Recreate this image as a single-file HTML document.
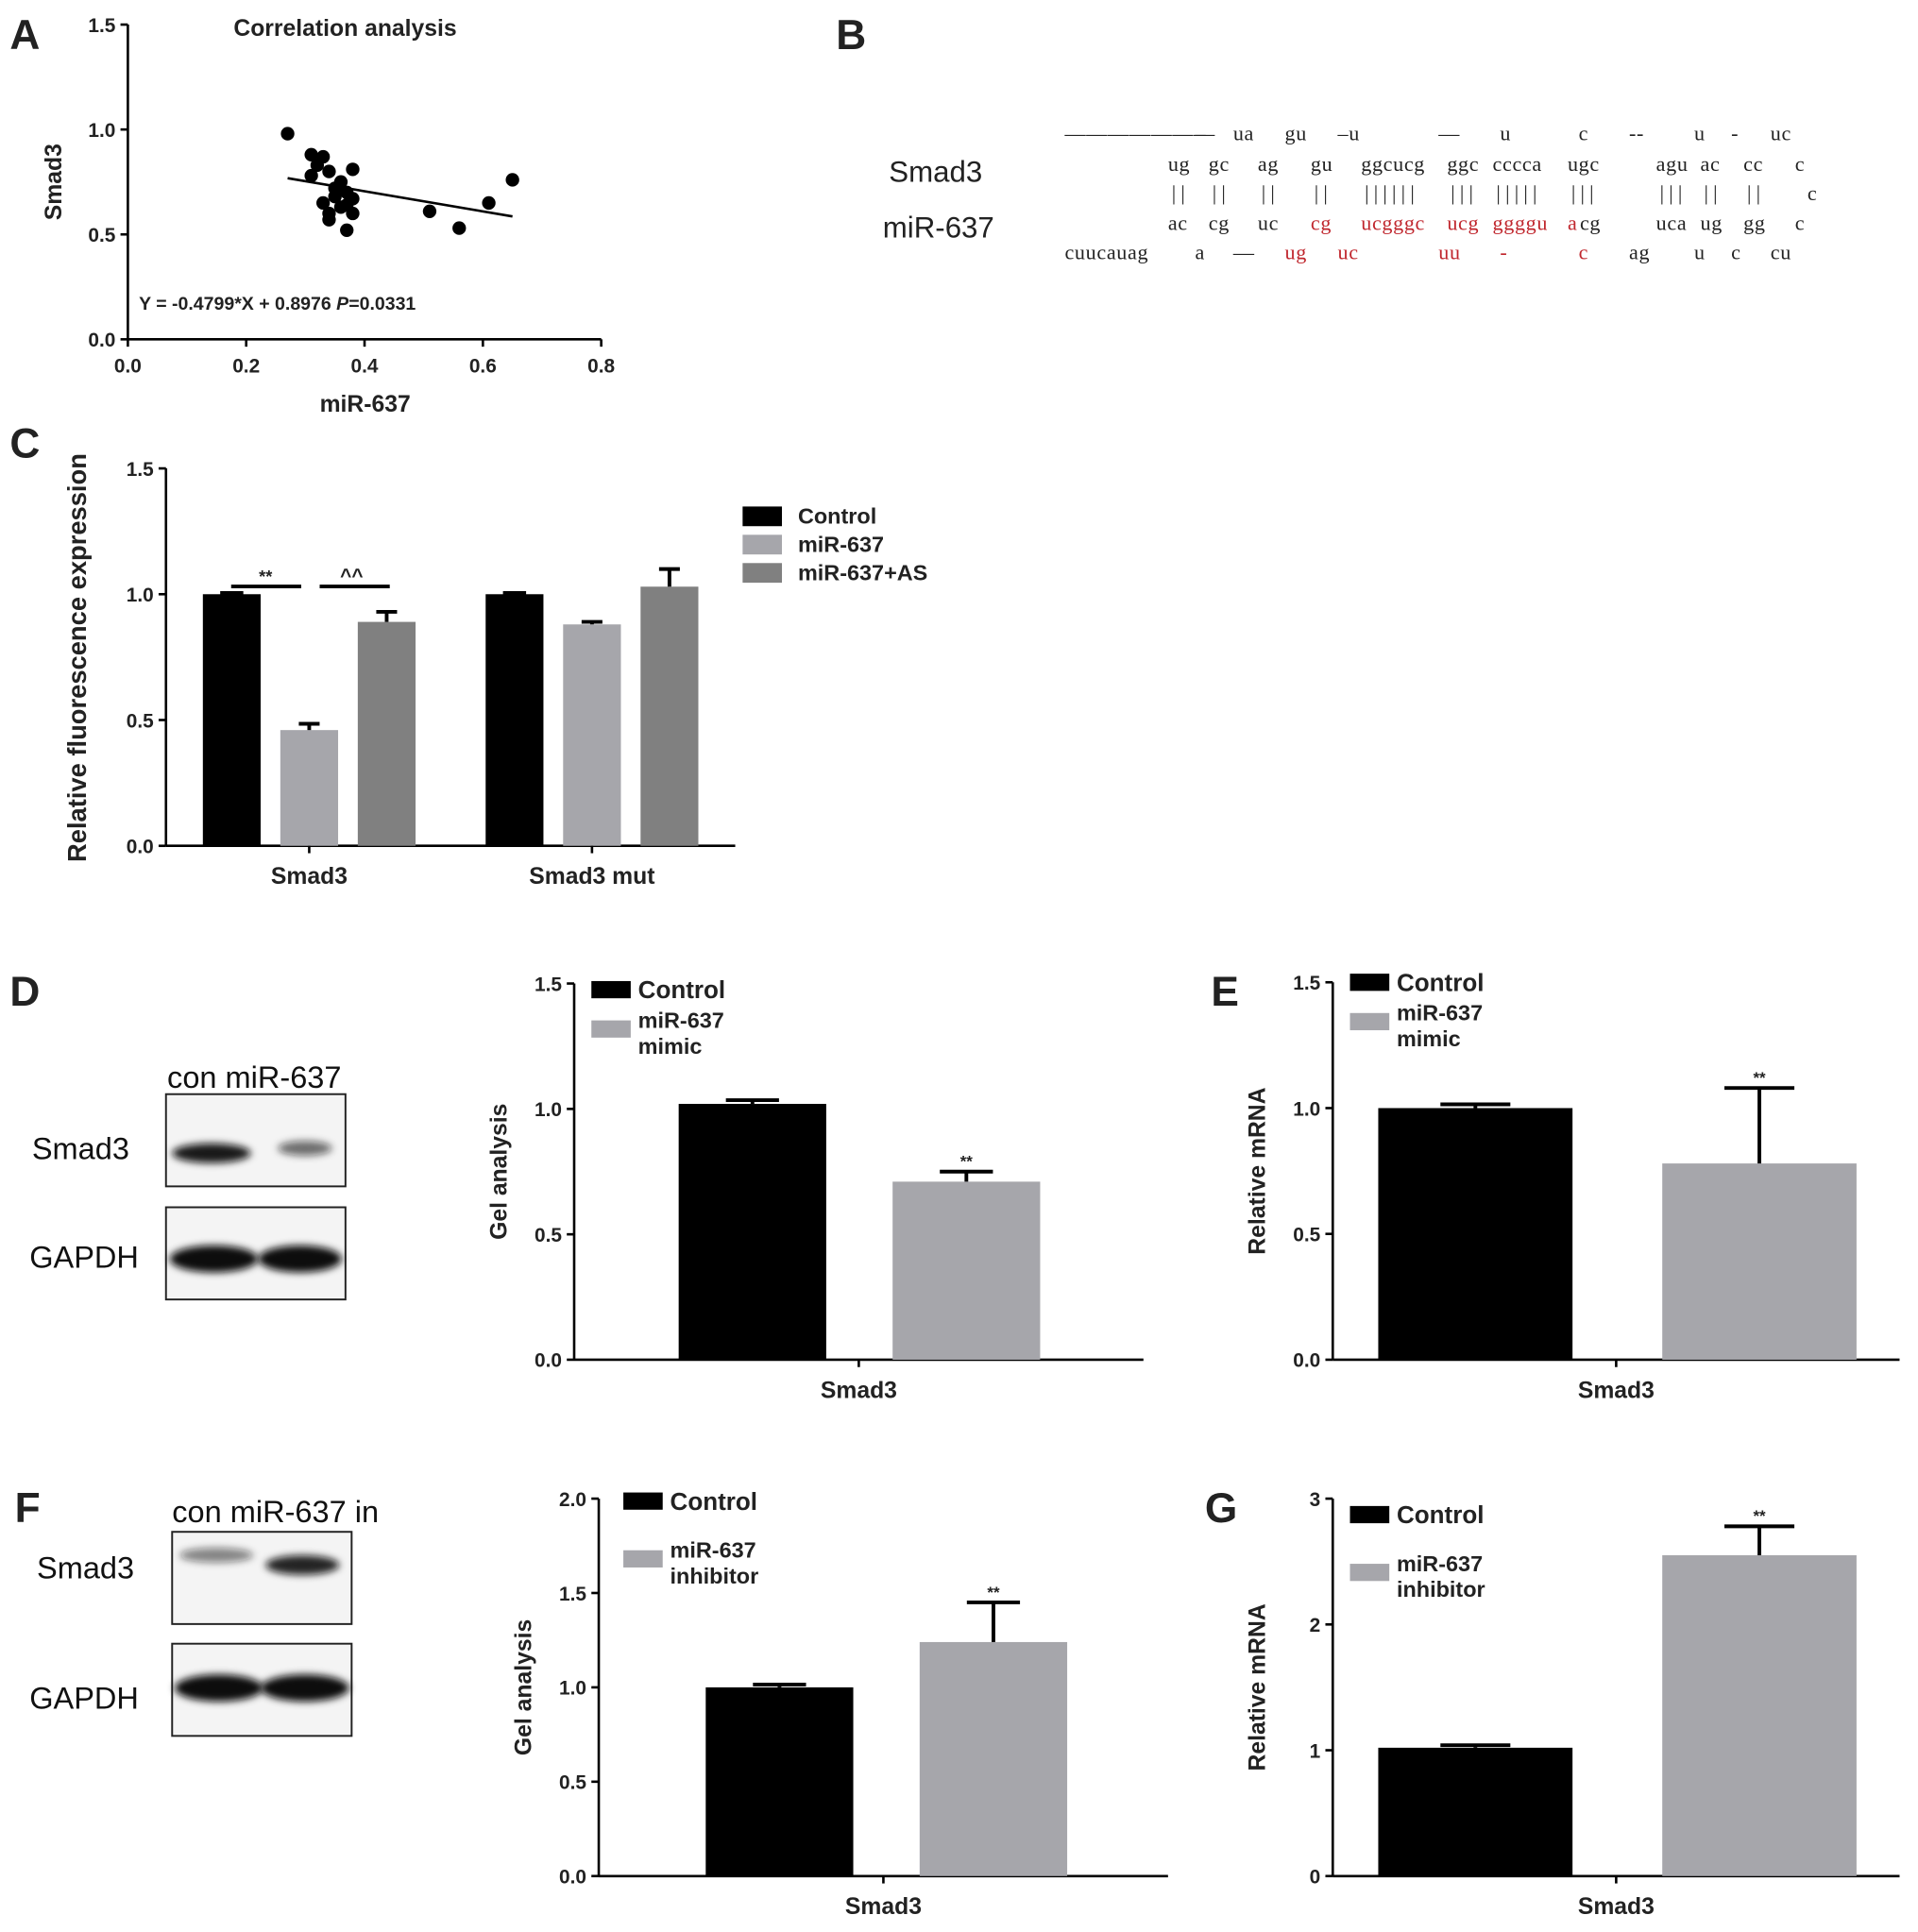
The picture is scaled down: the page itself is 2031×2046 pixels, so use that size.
<!DOCTYPE html>
<html><head><meta charset="utf-8"><style>
html,body{margin:0;padding:0;background:#fff;width:2031px;height:2046px;overflow:hidden}
svg{display:block}
text{font-family:"Liberation Sans",Arial,sans-serif}
.b{font-weight:bold}
.seq{font-family:"Liberation Serif",serif;font-size:17px;fill:#222;letter-spacing:0.5px}
.pipe{letter-spacing:4px}
.red{fill:#c0262d}
</style></head><body>
<svg id="fig" width="2031" height="2046" viewBox="0 0 1560 1571.5" preserveAspectRatio="none" xmlns="http://www.w3.org/2000/svg">
<defs><filter id="blur" x="-20%" y="-50%" width="140%" height="200%"><feGaussianBlur stdDeviation="3"/></filter></defs>
<g id="root"></g>
</svg>
<script>
// Panel A data
const scatterX=[0.27,0.31,0.32,0.33,0.34,0.33,0.34,0.34,0.35,0.36,0.37,0.36,0.37,0.38,0.38,0.38,0.37,0.51,0.56,0.61,0.65,0.31,0.35];
const scatterY=[0.98,0.88,0.83,0.87,0.80,0.65,0.60,0.57,0.72,0.75,0.70,0.63,0.64,0.67,0.81,0.60,0.52,0.61,0.53,0.65,0.76,0.78,0.68];
const fitSlope=-0.4799, fitIntercept=0.8976;
const aXTicks=[0,0.2,0.4,0.6,0.8], aYTicks=[0,0.5,1.0,1.5];
// Panel C data
const cCategories=["Smad3","Smad3 mut"];
const cSeries=["Control","miR-637","miR-637+AS"];
const cControl=[1.0,1.0], cMimic=[0.46,0.88], cAS=[0.89,1.03];
const cControlErr=[0,0], cMimicErr=[0.025,0.01], cASErr=[0.04,0.07];
const cTicks=[0,0.5,1.0,1.5];
// Panels D,E,F,G data
const dValues=[1.02,0.71], dErr=[0.015,0.04];
const eValues=[1.0,0.78], eErr=[0.015,0.30];
const fValues=[1.0,1.24], fErr=[0.015,0.21];
const gValues=[1.02,2.55], gErr=[0.02,0.23];
const tick15=[0,0.5,1.0,1.5], tick20=[0,0.5,1.0,1.5,2.0], tick3=[0,1,2,3];

const NS="http://www.w3.org/2000/svg";
const root=document.getElementById('root');
function el(tag,attrs,parent,txt){const e=document.createElementNS(NS,tag);for(const k in attrs)e.setAttribute(k,attrs[k]);if(txt!==undefined)e.textContent=txt;(parent||root).appendChild(e);return e;}
function fmt(v,d){return v.toFixed(d);}

function axes(g,x0,x1,y0,y1,vmax,ticks,dec,name){
  const sy=v=>y0-(v/vmax)*(y0-y1);
  let a=el('line',{x1:x0,y1:y0,x2:x0,y2:y1,stroke:'#000','stroke-width':2},g);
  
  a=el('line',{x1:x0,y1:y0,x2:x1,y2:y0,stroke:'#000','stroke-width':2},g);
  
  ticks.forEach(t=>{
    el('line',{x1:x0-6,y1:sy(t),x2:x0,y2:sy(t),stroke:'#000','stroke-width':2},g);
    const tx=el('text',{x:x0-10,y:sy(t)+6,'text-anchor':'end','font-size':16,class:'b',fill:'#222'},g,fmt(t,dec));
    
  });
  return sy;
}
function bar(g,x,w,v,err,sy,fill,name){
  const r=el('rect',{x:x,y:sy(v),width:w,height:sy(0)-sy(v),fill:fill},g);
  
  if(err>0){const cx=x+w/2;
    el('line',{x1:cx,y1:sy(v),x2:cx,y2:sy(v+err),stroke:'#000','stroke-width':3},g);
    el('line',{x1:cx-w*0.18,y1:sy(v+err),x2:cx+w*0.18,y2:sy(v+err),stroke:'#000','stroke-width':3},g);}
  else{el('line',{x1:x+w*0.3,y1:sy(v)-1,x2:x+w*0.7,y2:sy(v)-1,stroke:'#000','stroke-width':3},g);}
}
function label(txt,x,y,size,name,extra){const t=el('text',Object.assign({x:x,y:y,'font-size':size,class:'b',fill:'#222'},extra||{}),undefined,txt);return t;}

// Panel letters
[['A',8,40],['B',680,40],['C',8,372],['D',8,818],['E',985,818],['F',12,1238],['G',980,1238]].forEach(p=>label(p[0],p[1],p[2],34,'panel-label-'+p[0].toLowerCase()));

// ---- Panel A
const gA=el('g',{});
const ax0=104,ax1=489,ay0=276,ay1=20;
const asx=v=>ax0+v/0.8*(ax1-ax0);
const asy=axes(gA,ax0,ax1,ay0,ay1,1.5,aYTicks,1,'scatter');
aXTicks.forEach(t=>{el('line',{x1:asx(t),y1:ay0,x2:asx(t),y2:ay0+6,stroke:'#000','stroke-width':2},gA);
  const tx=el('text',{x:asx(t),y:ay0+27,'text-anchor':'middle','font-size':16,class:'b',fill:'#222'},gA,fmt(t,1));
  });
scatterX.forEach((x,i)=>{const c=el('circle',{cx:asx(x),cy:asy(scatterY[i]),r:5.5,fill:'#000'},gA);
  });
{const fl=el('line',{x1:asx(0.27),y1:asy(fitSlope*0.27+fitIntercept),x2:asx(0.65),y2:asy(fitSlope*0.65+fitIntercept),stroke:'#000','stroke-width':2},gA);
 }
label('Correlation analysis',190,29,19,'scatter-title');
label('Smad3',50,148,19,'scatter-y-axis-title',{transform:'rotate(-90 50 148)','text-anchor':'middle'});
label('miR-637',297,335,19,'scatter-x-axis-title',{'text-anchor':'middle'});
{const t=label('',113,252,15,'regression-equation');t.innerHTML='Y = -0.4799*X + 0.8976 <tspan font-style="italic">P</tspan>=0.0331';}

// ---- Panel B
label('Smad3',723,148,24,'smad3-seq-label').setAttribute('class','');
label('miR-637',718,193,24,'mir637-seq-label').setAttribute('class','');
const rows=[
 [109,[[866,'———————'],[972,'–'],[1003,'ua'],[1045,'gu'],[1088,'–u'],[1170,'—'],[1220,'u'],[1284,'c'],[1325,'--'],[1378,'u'],[1408,'-'],[1440,'uc']]],
 [134,[[950,'ug'],[983,'gc'],[1023,'ag'],[1066,'gu'],[1107,'ggcucg'],[1177,'ggc'],[1214,'cccca'],[1275,'ugc'],[1347,'agu'],[1383,'ac'],[1418,'cc'],[1460,'c']]],
 [158,[[953,'||',0,1],[986,'||',0,1],[1026,'||',0,1],[1069,'||',0,1],[1110,'||||||',0,1],[1180,'|||',0,1],[1217,'|||||',0,1],[1278,'|||',0,1],[1350,'|||',0,1],[1386,'||',0,1],[1421,'||',0,1],[1470,'c']]],
 [182,[[950,'ac'],[983,'cg'],[1023,'uc'],[1066,'cg',1],[1107,'ucgggc',1],[1177,'ucg',1],[1214,'ggggu',1],[1275,'a',1],[1285,'cg'],[1347,'uca'],[1383,'ug'],[1418,'gg'],[1460,'c']]],
 [206,[[866,'cuucauag'],[972,'a'],[1003,'—'],[1045,'ug',1],[1088,'uc',1],[1170,'uu',1],[1220,'-',1],[1284,'c',1],[1325,'ag'],[1378,'u'],[1408,'c'],[1440,'cu']]]
];
const gB=el('g',{});
rows.forEach(r=>r[1].forEach(s=>{el('text',{x:s[0],y:r[0]+5,class:'seq'+(s[2]?' red':'')+(s[3]?' pipe':'')},gB,s[1]);}));

// ---- Panel C
const gC=el('g',{});
const csy=axes(gC,135,598,688,381,1.5,cTicks,1,'luciferase');
const groupStart=[165,395], bw=47, step=63;
const cCols=['#000','#a6a6ab','#808080'];
const cVals=[cControl,cMimic,cAS], cErrs=[cControlErr,cMimicErr,cASErr];
cCategories.forEach((cat,i)=>{
  cVals.forEach((vals,j)=>bar(gC,groupStart[i]+j*step,bw,vals[i],cErrs[j][i],csy,cCols[j],'bar-'+cat.replace(' ','-').toLowerCase()+'-'+j));
  const cx=groupStart[i]+step+bw/2;
  el('line',{x1:cx,y1:688,x2:cx,y2:694,stroke:'#000','stroke-width':2},gC);
  label(cat,cx,719,19,'luciferase-x-label',{'text-anchor':'middle'});
});
el('line',{x1:188,y1:477,x2:245,y2:477,stroke:'#000','stroke-width':3},gC);
el('line',{x1:260,y1:477,x2:317,y2:477,stroke:'#000','stroke-width':3},gC);
label('**',216,474,14,'significance-star',{'text-anchor':'middle'});
label('^^',286,474,16,'significance-caret',{'text-anchor':'middle'});
label('Relative fluorescence expression',70,535,21,'luciferase-y-axis-title',{transform:'rotate(-90 70 535)','text-anchor':'middle'});
cSeries.forEach((s,j)=>{el('rect',{x:604,y:412+j*23,width:32,height:16,fill:cCols[j]});
  label(s,649,426+j*23,18,'legend-entry');});

// ---- bar chart helper for D-G
function simple(name,x0,x1,y0,y1,vmax,ticks,dec,vals,errs,bx,bw,ytitle,legend,leg){
  const g=el('g',{});
  const sy=axes(g,x0,x1,y0,y1,vmax,ticks,dec,name);
  vals.forEach((v,i)=>bar(g,bx[i],bw,v,errs[i],sy,i?'#a6a6ab':'#000',name+'-bar-'+i));
  label('**',bx[1]+bw/2,sy(vals[1]+errs[1])-4,13,'significance-star',{'text-anchor':'middle'});
  const mid=(x0+x1)/2;
  el('line',{x1:mid,y1:y0,x2:mid,y2:y0+6,stroke:'#000','stroke-width':2},g);
  label('Smad3',mid,y0+31,19,name+'-x-label',{'text-anchor':'middle'});
  label(ytitle,x0-55,(y0+y1)/2,19,name+'-y-axis-title',{transform:'rotate(-90 '+(x0-55)+' '+((y0+y1)/2)+')','text-anchor':'middle'});
  el('rect',{x:leg[0],y:leg[1],width:32,height:14,fill:'#000'});
  label('Control',leg[0]+38,leg[1]+14,20,'legend-control');
  el('rect',{x:leg[0],y:leg[1]+leg[2],width:32,height:14,fill:'#a6a6ab'});
  label(legend[0],leg[0]+38,leg[1]+leg[2]+6,18,'legend-treatment');
  label(legend[1],leg[0]+38,leg[1]+leg[2]+27,18,'legend-treatment-2');
}
simple('gel-chart-d',467,930,1106,800,1.5,tick15,1,dValues,dErr,[552,726],120,'Gel analysis',['miR-637','mimic'],[481,798,32]);
simple('mrna-chart-e',1084,1545,1106,799,1.5,tick15,1,eValues,eErr,[1121,1352],158,'Relative mRNA',['miR-637','mimic'],[1098,792,32]);
simple('gel-chart-f',487,950,1526,1219,2.0,tick20,1,fValues,fErr,[574,748],120,'Gel analysis',['miR-637','inhibitor'],[507,1214,47]);
simple('mrna-chart-g',1084,1545,1526,1219,3,tick3,0,gValues,gErr,[1121,1352],158,'Relative mRNA',['miR-637','inhibitor'],[1098,1225,47]);

// ---- Western blots
function blot(name,x,y,w,h,bands){
  const g=el('g',{});
  el('rect',{x:x,y:y,width:w,height:h,fill:'#f4f4f4',stroke:'#222','stroke-width':1.5},g);
  bands.forEach(b=>el('ellipse',{cx:b[0],cy:b[1],rx:b[2],ry:b[3],fill:'#111','fill-opacity':b[4],filter:'url(#blur)'},g));
}
const txt=(t,x,y,n)=>{const e=label(t,x,y,25,n);e.setAttribute('class','');e.setAttribute('fill','#111');};
txt('con miR-637',136,885,'blot-d-lanes');
txt('Smad3',26,943,'blot-d-smad3');txt('GAPDH',24,1031,'blot-d-gapdh');
blot('blot-d-smad3-band',135,890,146,75,[[172,938,32,8,0.95],[248,934,22,6,0.6]]);
blot('blot-d-gapdh-band',135,982,146,75,[[174,1024,36,11,1],[244,1024,34,11,1]]);
txt('con miR-637 in',140,1238,'blot-f-lanes');
txt('Smad3',30,1284,'blot-f-smad3');txt('GAPDH',24,1390,'blot-f-gapdh');
blot('blot-f-smad3-band',140,1246,146,75,[[176,1265,30,6,0.5],[246,1273,30,8,0.9]]);
blot('blot-f-gapdh-band',140,1337,146,75,[[178,1373,36,11,1],[248,1373,36,11,1]]);
</script>
</body></html>
